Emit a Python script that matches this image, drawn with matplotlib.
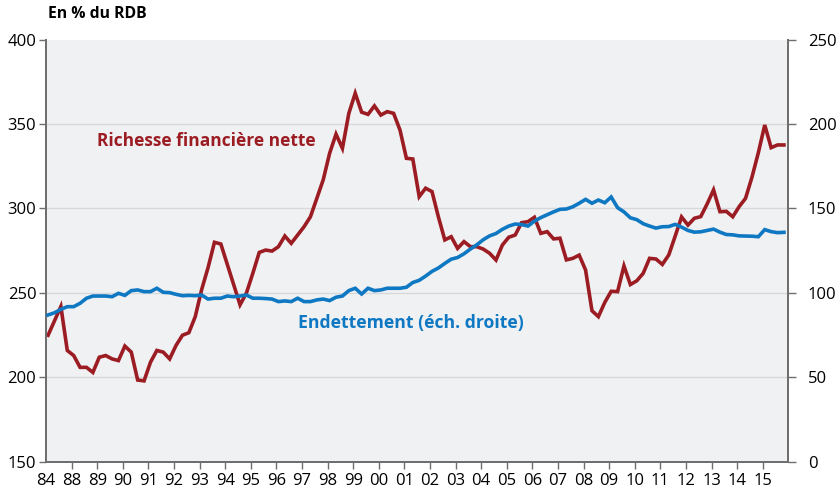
import matplotlib
matplotlib.use("Agg")
import matplotlib.pyplot as plt
import numpy as np

# Quarterly data, 1987Q1 .. 2015Q4
start_year = 1987
richesse = [225, 233.5, 242, 216, 213, 206, 206, 203, 212, 213,
            211, 210, 218.6, 215, 198.5, 198, 209, 216, 215, 211,
            219, 225, 226.5, 236, 252, 265, 280, 279, 267, 255,
            243, 250, 261.7, 274, 275.4, 274.8, 277.4, 283.7, 279.4, 284.3,
            289.2, 295.1, 306, 317, 332.7, 344, 335.6, 356.3, 368.2, 357,
            355.7, 360.7, 355.3, 357.3, 356.3, 346.4, 329.7, 329.3, 307, 312,
            310, 295, 281.4, 283.3, 276.4, 280.4, 277.4, 277.4, 276, 273.5,
            269.5, 278.4, 283, 284.3, 291.6, 292.2, 294.8, 285.3, 286.3, 282,
            282.4, 269.6, 270.5, 272.4, 263.6, 239.5, 236, 244.4, 251, 250.8,
            266, 255, 257.2, 261.6, 270.5, 270.1, 266.9, 272.5, 283.6, 295,
            290.2, 294.2, 295.2, 302.7, 311, 298.1, 298.3, 295.1, 301.1, 306,
            318.5, 333, 349.4, 336, 337.6, 337.6]
endettement = [87.0, 88.3, 90.3, 91.9, 91.9, 93.9, 96.9, 98.2, 98.2, 98.2,
               97.8, 99.8, 98.6, 101.4, 101.8, 100.8, 100.8, 102.8, 100.4, 100.2,
               99.2, 98.4, 98.6, 98.4, 98.8, 96.4, 96.9, 96.9, 98.2, 97.8,
               98.2, 98.8, 96.9, 96.9, 96.7, 96.4, 94.9, 95.3, 94.9, 96.9,
               94.9, 94.9, 95.9, 96.4, 95.5, 97.5, 98.2, 101.4, 102.8, 99.4,
               102.8, 101.4, 101.8, 102.8, 102.8, 102.8, 103.4, 106.2, 107.5, 110,
               112.8, 114.8, 117.5, 120, 121, 123.2, 126, 128.5, 131.5, 133.8,
               135.2, 137.7, 139.6, 140.8, 140.5, 139.6, 142.5, 144.6, 146.3, 148,
               149.5, 149.7, 151, 153.1, 155.4, 153.1, 155, 153.4, 156.8, 150.5,
               148, 144.5, 143.4, 141, 139.6, 138.4, 139.2, 139.3, 140.6, 139,
               137, 136, 136.2, 137, 137.8, 136, 134.6, 134.4, 133.8, 133.7,
               133.6, 133.3, 137.5, 136.3, 135.7, 135.9]
tick_years = list(range(1987, 2016))
tick_labels = ["84"] + ["%02d" % (y % 100) for y in range(1988, 2016)]

left_ticks = [150, 200, 250, 300, 350, 400]
right_ticks = [0, 50, 100, 150, 200, 250]

RED = "#9b1c22"
BLUE = "#0f78c3"
BG = "#f0f1f3"
SPINE = "#6e6e6e"

plt.rcParams['font.family'] = ['Open Sans', 'DejaVu Sans']

x = start_year + 0.08 + 0.25 * np.arange(len(richesse))

fig = plt.figure(figsize=(8.37, 4.95), dpi=100)
ax = fig.add_axes([0.055, 0.0667, 0.8868, 0.8535])
ax2 = ax.twinx()
ax.set_facecolor(BG)

ax.set_xlim(1987, 2016)
ax.set_ylim(150, 400)
ax2.set_ylim(0, 250)

for v in [200, 250, 300, 350]:
    ax.axhline(v, color="#d6d8db", lw=1.0, zorder=1)

ax.plot(x, richesse, color=RED, lw=2.6, zorder=3, solid_joinstyle='miter')
ax2.plot(x, endettement, color=BLUE, lw=2.6, zorder=3, solid_joinstyle='miter')

ax.set_yticks(left_ticks)
ax2.set_yticks(right_ticks)
ax.set_xticks(tick_years)
ax.set_xticklabels(tick_labels)

for a in (ax, ax2):
    a.spines['top'].set_visible(False)
    for s in ['left', 'right', 'bottom']:
        a.spines[s].set_color(SPINE)
        a.spines[s].set_linewidth(1.3)

ax.tick_params(axis='x', length=5, width=1, color=SPINE, labelsize=12, pad=3)
ax.tick_params(axis='y', length=5, width=1, color=SPINE, labelsize=12, pad=2)
ax2.tick_params(axis='y', length=6, width=1, color=SPINE, labelsize=12, pad=8)
ax.xaxis.get_major_ticks()[0].tick1line.set_visible(False)

fig.text(0.057, 0.972, "En % du RDB", fontsize=11.3, fontweight='bold', ha='left', va='center')
ax.text(1989.0, 340, "Richesse financière nette", color=RED, fontsize=12.5,
        fontweight='bold', ha='left', va='center')
ax2.text(1996.85, 82, "Endettement (éch. droite)", color=BLUE, fontsize=12.7,
         fontweight='bold', ha='left', va='center')

fig.savefig("out.png", dpi=100, facecolor="white")
